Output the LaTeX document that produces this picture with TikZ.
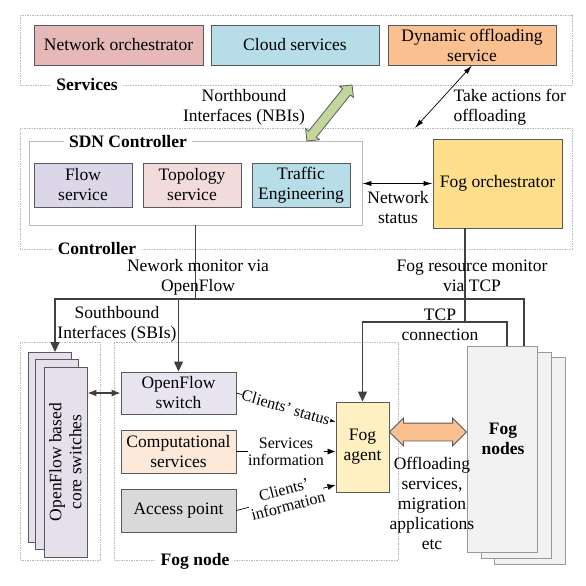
\documentclass[tikz,border=0pt]{standalone}
\usepackage{fontspec}
\setmainfont{LiberationSerif}[Extension=.ttf, UprightFont=*-Regular, BoldFont=*-Bold, ItalicFont=*-Italic, BoldItalicFont=*-BoldItalic]
\usetikzlibrary{arrows.meta, positioning, shapes.arrows, calc}

\definecolor{netpink}{HTML}{E6B9B8}
\definecolor{cloudblue}{HTML}{B7DEE8}
\definecolor{offorange}{HTML}{FAC090}
\definecolor{flowlav}{HTML}{DCD7E8}
\definecolor{topopink}{HTML}{F2DCDB}
\definecolor{orchgold}{HTML}{FFDF8C}
\definecolor{swlav}{HTML}{E8E5F0}
\definecolor{compbeige}{HTML}{FDE9D9}
\definecolor{apgray}{HTML}{D9D9D9}
\definecolor{agentyel}{HTML}{FFF0C2}
\definecolor{corelav}{HTML}{E6E0EC}
\definecolor{nodegray}{HTML}{F2F2F2}
\definecolor{nbigreen}{HTML}{C3D69B}
\definecolor{linegray}{HTML}{404040}
\definecolor{edgegray}{HTML}{595959}

\begin{document}
\begin{tikzpicture}[x=1pt, y=-1pt, font=\rmfamily\fontsize{17.5}{20}\selectfont,
  box/.style={draw=edgegray, line width=0.9pt, align=center, inner sep=0pt},
  group/.style={draw=gray!55, line width=0.7pt, dash pattern=on 1.5pt off 1pt},
  grouplabel/.style={fill=white, font=\rmfamily\fontsize{17.5}{20}\selectfont\bfseries, inner xsep=5pt, inner ysep=0pt},
  link/.style={draw=linegray, line width=1.3pt},
  linkarrow/.style={link, -{Triangle[length=10pt, width=9pt]}},
  thinarrow/.style={draw=black, line width=0.7pt, {Latex[length=9pt, width=5pt]}-{Latex[length=9pt, width=5pt]}},
  labarrow/.style={draw=black, line width=0.7pt, -{Latex[length=8pt, width=6pt]}},
  masklabel/.style={fill=white, inner sep=0.5pt, align=center, font=\rmfamily\fontsize{16}{17}\selectfont},
  corebox/.style={box, fill=corelav, minimum width=43pt, minimum height=190pt},
  fognode/.style={draw=gray!80, line width=0.8pt, fill=nodegray, minimum width=70pt, minimum height=206pt},
  fat/.style={double arrow, draw=edgegray, line width=0.8pt, inner xsep=0pt}]
  \def \busy{299}
  \def \tcpy{322}
  \useasboundingbox (0,0) rectangle (586,586);

  % services layer
  \draw[group] (20,15) rectangle (572,85);
  \node[grouplabel] (servlbl) at (87,85) {Services};
  \node[box, fill=netpink, minimum width=169pt, minimum height=40pt] (netorch) at (118.5,45) {Network orchestrator};
  \node[box, fill=cloudblue, minimum width=168pt, minimum height=40pt] (cloud) at (295,45) {Cloud services};
  \node[box, fill=offorange, minimum width=168pt, minimum height=40pt] (dynoff) at (472,45) {Dynamic offloading\\service};

  \node[align=center] (nbilbl) at (244,107) {Northbound\\Interfaces (NBIs)};
  \node[align=left, anchor=west] (actlbl) at (450,107) {Take actions for\\offloading};

  % controller layer
  \draw[group] (20,128) rectangle (572,249);
  \node[grouplabel] (ctrllbl) at (97,249) {Controller};
  \coordinate (ctrltop) at (415,128);
  \node[draw=gray!55, line width=0.7pt, minimum width=333pt, minimum height=84pt] (sdn) at (195.5,183) {};
  \node[grouplabel] (sdnlbl) at (128,142) {SDN Controller};
  \node[box, fill=flowlav, minimum width=98pt, minimum height=44pt] (flow) at (83,185) {Flow\\service};
  \node[box, fill=topopink, minimum width=98pt, minimum height=44pt] (topo) at (192,185) {Topology\\service};
  \node[box, fill=cloudblue, minimum width=98pt, minimum height=44pt] (traffic) at (301,185) {Traffic\\Engineering};
  \node[box, fill=orchgold, minimum width=129pt, minimum height=89pt] (fogorch) at (497.5,183.5) {Fog orchestrator};

  \node[fat, fill=nbigreen, minimum height=72pt, inner ysep=4.5pt, double arrow head extend=4pt, rotate=51.2] (nbi) at (329.5,113) {};
  \draw[thinarrow] (dynoff.south) -- (ctrltop);
  \draw[thinarrow] (sdn.east |- fogorch) -- (fogorch.west);
  \node[align=center] (statlbl) at (398,208) {Network\\status};

  % fog side
  \draw[group] (20,342) rectangle (100,560);
  \draw[group] (114,342) rectangle (398,560);
  \node[grouplabel] (foglbl) at (195,561) {Fog node};

  \node[corebox] (coreback) at (49.5,447.5) {};
  \node[corebox] (coremid) at ($(coreback)+(7.5,6.5)$) {};
  \node[corebox] (corefront) at ($(coreback)+(16,14.5)$) {};
  \node[rotate=90, align=center] (corelbl) at (corefront) {OpenFlow based\\core switches};

  \node[fognode, minimum width=71pt, minimum height=207pt] (fnback) at (529.5,460.5) {};
  \node[fognode] (fnmid) at ($(fnback)+(-13.5,-5.5)$) {};
  \node[fognode] (fnfront) at ($(fnback)+(-27.5,-11.5)$) {};
  \node[align=center, font=\rmfamily\fontsize{17.5}{20}\selectfont\bfseries] (fnlbl) at (503,439) {Fog\\nodes};

  \node[box, fill=swlav, minimum width=115pt, minimum height=42pt] (osw) at (178.5,393) {OpenFlow\\switch};
  \node[box, fill=compbeige, minimum width=115pt, minimum height=43pt] (comp) at (178.5,451.5) {Computational\\services};
  \node[box, fill=apgray, minimum width=115pt, minimum height=43pt] (ap) at (178.5,510.5) {Access point};
  \node[box, fill=agentyel, minimum width=53pt, minimum height=90pt] (agent) at (362.5,447) {Fog\\agent};

  % monitoring links
  \coordinate (busL) at (55,\busy);
  \coordinate (busR) at (524,\busy);
  \coordinate (tcpR) at (507,\tcpy);
  \draw[link] (sdn.south) -- (sdn.south |- busL);
  \draw[linkarrow] (busR |- fnfront.north) -- (busR) -- (busL) -- (busL |- coreback.north);
  \draw[linkarrow] (osw.north |- busL) -- (osw.north);
  \draw[link] ([xshift=-32.5pt]fogorch.south) -- ([xshift=-32.5pt]fogorch.south |- tcpR);
  \draw[linkarrow] (tcpR |- fnfront.north) -- (tcpR) -| (agent.north);
  \draw[link, {Latex[length=9pt, width=7pt]}-{Latex[length=9pt, width=7pt]}] (corefront.east |- osw) -- (osw.west);

  \node[align=center] (monlbl) at (198,277) {Nework monitor via\\OpenFlow};
  \node[align=center] (reslbl) at (472,276) {Fog resource monitor\\via TCP};
  \node[align=center] (tcplbl) at (440,325) {TCP\\connection};
  \node[align=center] (sbilbl) at (117,324) {Southbound\\Interfaces (SBIs)};

  % agent inputs
  \draw[labarrow] (osw.east) -- (agent.west |- 0,422) node[midway, sloped, masklabel] {Clients' status};
  \draw[labarrow] (comp.east) -- (comp.east -| agent.west) node[midway, masklabel] {Services\\information};
  \draw[labarrow] (ap.east) -- (agent.west |- 0,485) node[midway, sloped, masklabel] {Clients'\\information};

  \node[fat, fill=offorange, minimum height=77pt, inner ysep=8.5pt, double arrow head extend=5pt] (offarrow) at (428,432) {};
  \node[align=center] (offlbl) at (432,503) {Offloading\\services,\\migration\\applications\\etc};
\end{tikzpicture}
\end{document}
